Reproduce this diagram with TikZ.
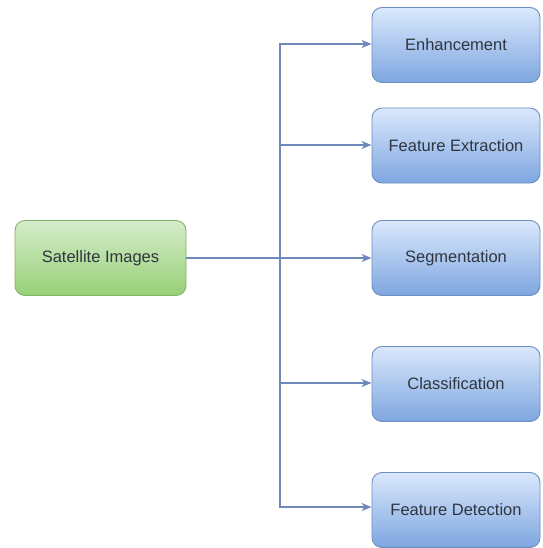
\documentclass[tikz,border=0pt]{standalone}
\usepackage{fontspec}
\setmainfont{Liberation Sans}
\usetikzlibrary{arrows.meta}
\definecolor{gtop}{HTML}{D5ECCB}
\definecolor{gbot}{HTML}{97D077}
\definecolor{gline}{HTML}{82B366}
\definecolor{btop}{HTML}{DAE8FC}
\definecolor{bbot}{HTML}{7EA6E0}
\definecolor{bline}{HTML}{6C8EBF}
\definecolor{conn}{HTML}{6F88BA}
\definecolor{txt}{HTML}{2F3640}
\tikzset{
  box/.style={rounded corners=10pt, minimum width=168pt, minimum height=75pt, inner sep=0pt,
    text=txt, font=\fontsize{16.5}{19}\selectfont, line width=0.9pt},
  greenbox/.style={box, draw=gline, top color=gtop, bottom color=gbot, minimum width=171pt},
  bluebox/.style={box, draw=bline, top color=btop, bottom color=bbot},
  conn/.style={draw=conn, line width=1.4pt, -{Stealth[length=10pt,width=8pt,inset=3pt]}},
  trunk/.style={draw=conn, line width=1.4pt},
}
\begin{document}
\begin{tikzpicture}[x=1pt,y=-1pt]
\useasboundingbox (0,0) rectangle (542,548);
\node[greenbox] (sat) at (100.5,258) {Satellite Images};
\node[bluebox] (enh) at (456,45) {Enhancement};
\node[bluebox] (fex) at (456,145.5) {Feature Extraction};
\node[bluebox] (seg) at (456,258) {Segmentation};
\node[bluebox] (cla) at (456,384) {Classification};
\node[bluebox] (fde) at (456,510) {Feature Detection};
\coordinate (top) at (280,44);
\coordinate (bot) at (280,507);
\draw[trunk, line cap=rect] (top) -- (bot);
\draw[conn] (sat.east) -- (seg.west);
\draw[conn] (top) -- (enh.west |- top);
\draw[conn] (280,145) -- (fex.west |- 0,145);
\draw[conn] (280,383) -- (cla.west |- 0,383);
\draw[conn] (bot) -- (fde.west |- bot);
\end{tikzpicture}
\end{document}
